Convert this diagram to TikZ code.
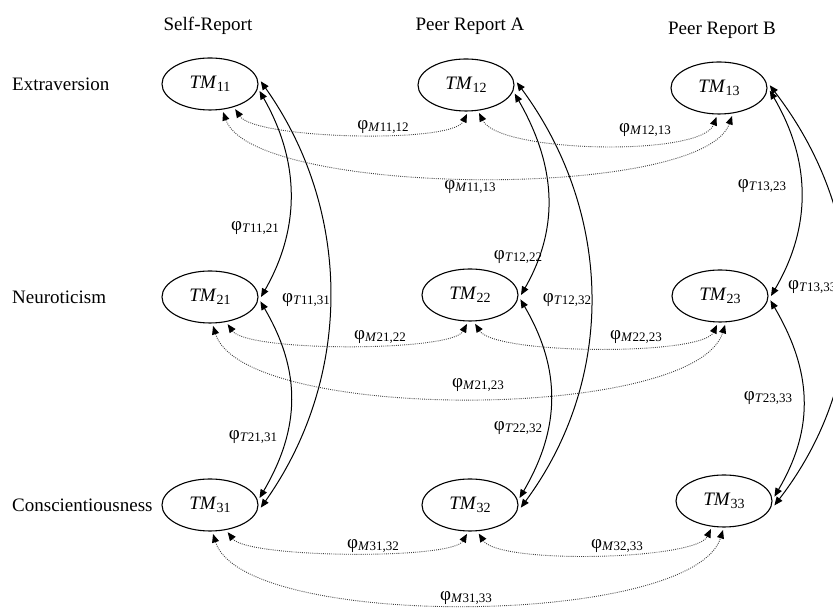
\documentclass[tikz,border=0pt]{standalone}
\usepackage{fontspec}
\setmainfont{Liberation Serif}
\usetikzlibrary{shapes.geometric,arrows.meta}
% factor name with lowered index, and a phi coefficient with lowered index
\newcommand\tmsub[2]{\textit{#1}\raisebox{-3pt}{\fontsize{14}{16}\selectfont #2}}
\newcommand\phisub[2]{φ\raisebox{-2pt}{\fontsize{13}{15}\selectfont\textit{#1}#2}}
\begin{document}
\begin{tikzpicture}[x=1pt,y=1pt,
  font=\fontsize{19}{22}\selectfont,
  latent/.style={ellipse, draw, line width=1.1pt, minimum width=96pt,
    minimum height=52pt, inner sep=0pt, outer sep=3pt},
  trait/.style={line width=1pt,
    {Triangle[length=8.5pt,width=7pt]}-{Triangle[length=8.5pt,width=7pt]}},
  method/.style={line width=0.9pt, black!75, dash pattern=on 0.9pt off 1.2pt,
    {Triangle[length=8.5pt,width=7pt,color=black]}-{Triangle[length=8.5pt,width=7pt,color=black]}},
  coef/.style={inner sep=1pt},
  rowlab/.style={anchor=west, inner sep=0pt},
  collab/.style={inner sep=0pt}]
\useasboundingbox (0,0) rectangle (833,609);
\clip (0,0) rectangle (833,609);

% column and row headings
\node[collab] (hS) at (208,583) {Self-Report};
\node[collab] (hA) at (470,583) {Peer Report A};
\node[collab] (hB) at (722,579) {Peer Report B};
\node[rowlab] (rE) at (12,525) {Extraversion};
\node[rowlab] (rN) at (12,312) {Neuroticism};
\node[rowlab] (rC) at (12,104) {Conscientiousness};

% trait-method units
\node[latent] (TM11) at (210,525) {\tmsub{TM}{11}};
\node[latent] (TM12) at (466,524) {\tmsub{TM}{12}};
\node[latent] (TM13) at (719,521) {\tmsub{TM}{13}};
\node[latent] (TM21) at (210,312) {\tmsub{TM}{21}};
\node[latent] (TM22) at (470,314) {\tmsub{TM}{22}};
\node[latent] (TM23) at (720,313) {\tmsub{TM}{23}};
\node[latent] (TM31) at (210,104) {\tmsub{TM}{31}};
\node[latent] (TM32) at (470,104) {\tmsub{TM}{32}};
\node[latent] (TM33) at (724,108) {\tmsub{TM}{33}};

% trait correlations (same trait, different rows)
\draw[trait] (TM11.-8) .. controls +(40,-70) and +(40,70) .. (TM21.0);
\draw[trait] (TM11.3) .. controls +(92,-130) and +(92,130) .. (TM31.-3);
\draw[trait] (TM21.-5) .. controls +(41,-70) and +(41,70) .. (TM31.8);
\draw[trait] (TM12.-10) .. controls +(40,-70) and +(40,70) .. (TM22.0);
\draw[trait] (TM12.3) .. controls +(96,-130) and +(96,130) .. (TM32.-3);
\draw[trait] (TM22.-5) .. controls +(41,-70) and +(41,70) .. (TM32.8);
\draw[trait] (TM13.-3) .. controls +(41,-70) and +(41,70) .. (TM23.0);
\draw[trait] (TM13.3) .. controls +(100,-130) and +(100,130) .. (TM33.-5);
\draw[trait] (TM23.-5) .. controls +(41,-70) and +(41,70) .. (TM33.5);

\node[coef] (t1121) at (255,381) {\phisub{T}{11,21}};
\node[coef] (t1131) at (306,309) {\phisub{T}{11,31}};
\node[coef] (t2131) at (253,172) {\phisub{T}{21,31}};
\node[coef] (t1222) at (518,352) {\phisub{T}{12,22}};
\node[coef] (t1232) at (567,309) {\phisub{T}{12,32}};
\node[coef] (t2232) at (518,181) {\phisub{T}{22,32}};
\node[coef] (t1323) at (762,423) {\phisub{T}{13,23}};
\node[coef,anchor=west] (t1333) at (787,322) {\phisub{T}{13,33}};
\node[coef] (t2333) at (768,211) {\phisub{T}{23,33}};

% method correlations (same rater, different traits)
\draw[method] (TM11.-45) .. controls +(20,-30) and +(-15,-30) .. (TM12.-88);
\draw[method] (TM12.-65) .. controls +(20,-40) and +(-15,-40) .. (TM13.-95);
\draw[method] (TM11.-65) .. controls +(30,-85) and +(-30,-85) .. (TM13.-65);
\draw[method] (TM21.-57) .. controls +(20,-28) and +(-15,-28) .. (TM22.-96);
\draw[method] (TM22.-80) .. controls +(20,-31) and +(-15,-31) .. (TM23.-96);
\draw[method] (TM21.-84) .. controls +(30,-97) and +(-30,-97) .. (TM23.-80);
\draw[method] (TM31.-57) .. controls +(20,-26) and +(-15,-26) .. (TM32.-96);
\draw[method] (TM32.-73) .. controls +(20,-31) and +(-15,-31) .. (TM33.-115);
\draw[method] (TM31.-84) .. controls +(30,-97) and +(-30,-97) .. (TM33.-92);

\node[coef] (m1112) at (383,482) {\phisub{M}{11,12}};
\node[coef] (m1213) at (645,479) {\phisub{M}{12,13}};
\node[coef] (m1113) at (470,422) {\phisub{M}{11,13}};
\node[coef] (m2122) at (380,272) {\phisub{M}{21,22}};
\node[coef] (m2223) at (636,272) {\phisub{M}{22,23}};
\node[coef] (m2123) at (478,224) {\phisub{M}{21,23}};
\node[coef] (m3132) at (373,63) {\phisub{M}{31,32}};
\node[coef] (m3233) at (617,63) {\phisub{M}{32,33}};
\node[coef] (m3133) at (466,11) {\phisub{M}{31,33}};
\end{tikzpicture}
\end{document}
